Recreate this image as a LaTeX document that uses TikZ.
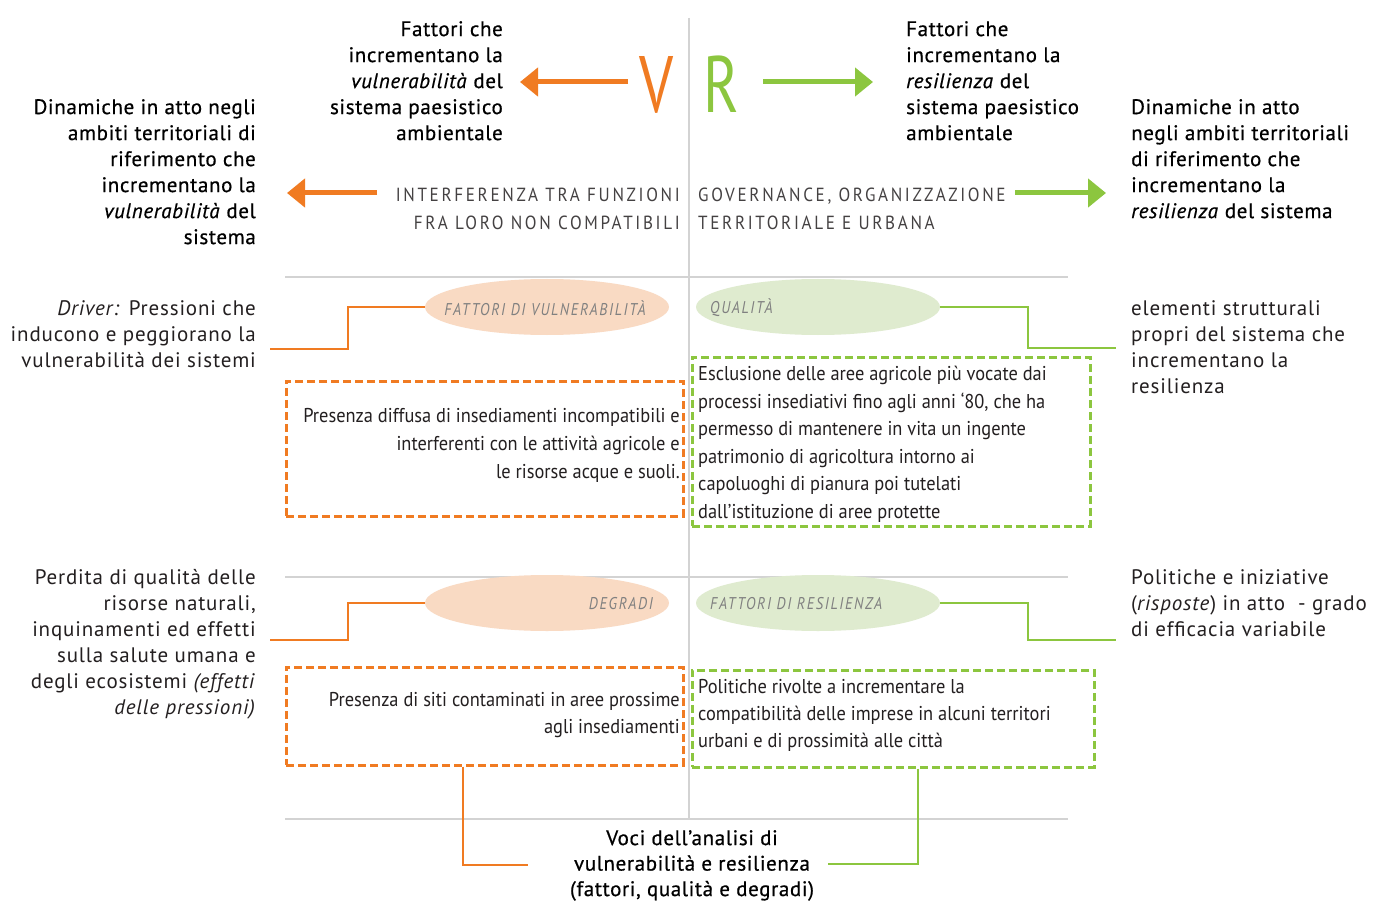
\documentclass[tikz,border=0pt]{standalone}
\usepackage{fontspec}
\setmainfont{PT Sans}
\newfontfamily\bodyf[LetterSpace=4]{PT Sans}
\newfontfamily\medf[LetterSpace=3,FakeBold=0.6]{PT Sans}
\newfontfamily\condf[FakeStretch=0.92]{PT Sans}
\newfontfamily\capsf[FakeStretch=0.9,LetterSpace=14]{PT Sans}
\newfontfamily\labf[FakeStretch=0.85,LetterSpace=10]{PT Sans}
\newfontfamily\bigf[FakeStretch=0.75]{PT Sans}
\usetikzlibrary{arrows.meta,shapes.geometric}
\definecolor{vor}{HTML}{F07B22}
\definecolor{vgr}{HTML}{8CC63F}
\definecolor{orf}{HTML}{F9DAC3}
\definecolor{grf}{HTML}{DFEBCF}
\definecolor{gline}{HTML}{D3D3D3}
\definecolor{txt}{HTML}{231F20}
\definecolor{lab}{HTML}{808080}
\tikzset{
  txtR/.style={anchor=north east, align=right, inner sep=0pt, text=txt, font=\bodyf\fontsize{21}{26}\selectfont},
  txtL/.style={anchor=north west, align=left, inner sep=0pt, text=txt, font=\bodyf\fontsize{21}{26}\selectfont},
  medR/.style={anchor=north east, align=right, inner sep=0pt, text=black, font=\medf\fontsize{21}{26}\selectfont},
  medL/.style={anchor=north west, align=left, inner sep=0pt, text=black, font=\medf\fontsize{21}{26}\selectfont},
  capsR/.style={anchor=north east, align=right, inner sep=0pt, text=txt!85, font=\capsf\fontsize{19}{28}\selectfont},
  capsL/.style={anchor=north west, align=left, inner sep=0pt, text=txt!85, font=\capsf\fontsize{19}{28}\selectfont},
  boxtxtR/.style={anchor=north east, align=right, inner sep=0pt, text=txt, font=\condf\fontsize{20}{28}\selectfont},
  boxtxtL/.style={anchor=north west, align=left, inner sep=0pt, text=txt, font=\condf\fontsize{20}{27.5}\selectfont},
  ell/.style={ellipse, draw=none, minimum width=244pt, minimum height=56pt, inner sep=0pt},
  elab/.style={inner sep=0pt, text=lab, font=\labf\itshape\fontsize{17}{18}\selectfont},
  obox/.style={draw=vor, line width=3pt, dash pattern=on 8pt off 4pt, inner sep=0pt},
  gbox/.style={draw=vgr, line width=3pt, dash pattern=on 8pt off 4pt, inner sep=0pt},
  oline/.style={draw=vor, line width=2.2pt},
  gline2/.style={draw=vgr, line width=2.2pt},
  grid/.style={draw=gline, line width=2pt},
  oarr/.style={draw=vor, line width=5pt, -{Triangle[length=18pt,width=28pt]}},
  garr/.style={draw=vgr, line width=5pt, -{Triangle[length=18pt,width=28pt]}},
}
\begin{document}
\begin{tikzpicture}[x=1pt,y=-1pt]
\useasboundingbox[fill=white] (0,0) rectangle (1376,901);

% grid lines
\draw[grid] (689,18) -- (689,818);
\draw[grid] (285,277) -- (1068,277);
\draw[grid] (285,577) -- (1068,577);
\draw[grid] (285,819) -- (1068,819);

% V and R
\node[anchor=base, inner sep=0pt, text=vor, font=\bigf\fontsize{80}{80}\selectfont] (V) at (657,113) {V};
\node[anchor=base, inner sep=0pt, text=vgr, font=\bigf\fontsize{80}{80}\selectfont] (R) at (721,113) {R};
\coordinate (va) at (520,82);
\coordinate (ra) at (873,82);
\draw[oarr] (628,82) -- (va);
\draw[garr] (763,82) -- (ra);

% top texts
\node[medR] (tl) at (503,21) {Fattori che\\incrementano la\\\textit{vulnerabilità} del\\sistema paesistico\\ambientale};
\node[medL] (tr) at (906,21) {Fattori che\\incrementano la\\\textit{resilienza} del\\sistema paesistico\\ambientale};
\node[medR] (dl) at (256,99) {Dinamiche in atto negli\\ambiti territoriali di\\riferimento che\\incrementano la\\\textit{vulnerabilità} del\\sistema};
\node[medL] (dr) at (1131,99) {Dinamiche in atto\\negli ambiti territoriali\\di riferimento che\\incrementano la\\\textit{resilienza} del sistema};

% caps
\node[capsR] (ci) at (680,188) {INTERFERENZA TRA FUNZIONI\\FRA LORO NON COMPATIBILI};
\node[capsL] (cg) at (698,188) {GOVERNANCE, ORGANIZZAZIONE\\TERRITORIALE E URBANA};
\coordinate (la) at (287,193);
\coordinate (lr) at (1106,193);
\draw[oarr] (377,193) -- (la);
\draw[garr] (1015,193) -- (lr);

% row 1
\node[ell, fill=orf] (e1) at (547,307) {};
\node[ell, fill=grf] (e2) at (818,307) {};
\node[elab] (l1) at (545,308) {FATTORI DI VULNERABILITÀ};
\node[elab, anchor=west] (l2) at (710,308) {QUALITÀ};
\coordinate (c1) at (270,349);
\coordinate (c2) at (1116,348);
\draw[oline] (e1.west) -- ++(-77,0) |- (c1);
\draw[gline2] (e2.east) -- ++(88,0) |- (c2);
\node[txtR] (t1) at (256,300) {\textit{Driver:} Pressioni che\\inducono e peggiorano la\\vulnerabilità dei sistemi};
\node[txtL] (t2) at (1131,300) {elementi strutturali\\propri del sistema che\\incrementano la\\resilienza};

\node[obox, minimum width=397pt, minimum height=135pt] (b1) at (484.5,448.5) {};
\node[gbox, minimum width=398pt, minimum height=169pt] (b2) at (891,441.5) {};
\node[boxtxtR] (bt1) at (680,408) {Presenza diffusa di insediamenti incompatibili e\\interferenti con le attività agricole e\\le risorse acque e suoli.};
\node[boxtxtL] (bt2) at (698,366) {Esclusione delle aree agricole più vocate dai\\processi insediativi fino agli anni ‘80, che ha\\permesso di mantenere in vita un ingente\\patrimonio di agricoltura intorno ai\\capoluoghi di pianura poi tutelati\\dall’istituzione di aree protette};

% row 2
\node[ell, fill=orf] (e3) at (547,603) {};
\node[ell, fill=grf] (e4) at (818,603) {};
\node[elab, anchor=east] (l3) at (653,604) {DEGRADI};
\node[elab, anchor=west] (l4) at (710,604) {FATTORI DI RESILIENZA};
\coordinate (c3) at (270,640);
\coordinate (c4) at (1116,640);
\draw[oline] (e3.west) -- ++(-77,0) |- (c3);
\draw[gline2] (e4.east) -- ++(88,0) |- (c4);
\node[txtR] (t3) at (256,569) {Perdita di qualità delle\\risorse naturali,\\inquinamenti ed effetti\\sulla salute umana e\\degli ecosistemi \textit{(effetti}\\\textit{delle pressioni)}};
\node[txtL] (t4) at (1131,569) {Politiche e iniziative\\(\textit{risposte}) in atto\ \ - grado\\di efficacia variabile};

\node[obox, minimum width=397pt, minimum height=98pt] (b3) at (484.5,716) {};
\node[gbox, minimum width=402pt, minimum height=97pt] (b4) at (893,718.5) {};
\node[boxtxtR, font=\condf\fontsize{20}{27}\selectfont] (bt3) at (680,692) {Presenza di siti contaminati in aree prossime\\agli insediamenti};
\node[boxtxtL, font=\condf\fontsize{20}{27}\selectfont] (bt4) at (698,679) {Politiche rivolte a incrementare la\\compatibilità delle imprese in alcuni territori\\urbani e di prossimità alle città};

% bottom
\node[anchor=north, align=center, inner sep=0pt, text=black, font=\medf\fontsize{21}{25.5}\selectfont] (bot) at (692,830) {Voci dell’analisi di\\vulnerabilità e resilienza\\(fattori, qualità e degradi)};
\coordinate (c5) at (528,865);
\coordinate (c6) at (828,864);
\draw[oline] ([xshift=-21.5pt]b3.south) |- (c5);
\draw[gline2] ([xshift=25pt]b4.south) |- (c6);
\end{tikzpicture}
\end{document}
